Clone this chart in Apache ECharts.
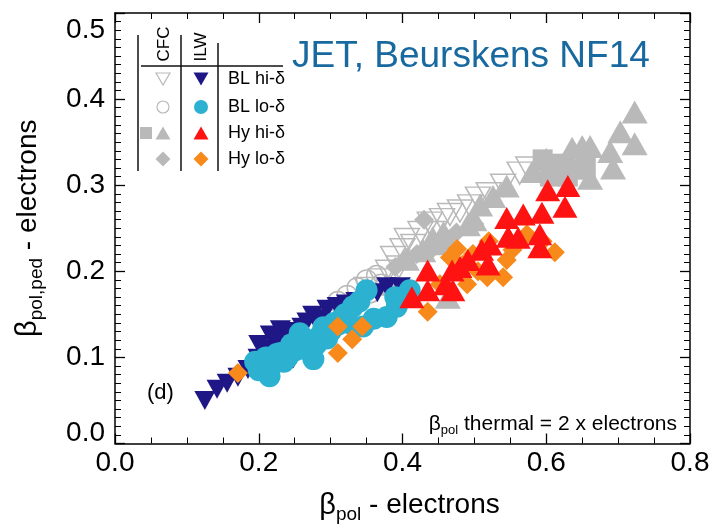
<!DOCTYPE html>
<html><head><meta charset="utf-8">
<script src="https://cdn.jsdelivr.net/npm/echarts@6/dist/echarts.min.js"></script>
<style>html,body{margin:0;padding:0;background:#fff}#c{width:716px;height:529px}</style>
</head><body><div id="c"></div>
<script>
// ---- data (x = beta_pol electrons, y = beta_pol,ped electrons) ----
var xTickLabels = ['0.0','0.2','0.4','0.6','0.8'];
var yTickLabels = ['0.0','0.1','0.2','0.3','0.4','0.5'];
var legendRows = ['BL hi-δ','BL lo-δ','Hy hi-δ','Hy lo-δ'];

var cfcBLhi = [[0.35,0.18],[0.37,0.19],[0.38,0.2],[0.387,0.216],[0.395,0.205],[0.4,0.225],[0.406,0.237],[0.415,0.23],[0.425,0.245],[0.438,0.256],[0.445,0.245],[0.455,0.26],[0.466,0.266],[0.48,0.27],[0.494,0.276],[0.505,0.285],[0.52,0.29],[0.54,0.3],[0.563,0.314],[0.575,0.32]];
var cfcBLlo = [[0.31,0.165],[0.323,0.172],[0.337,0.181],[0.35,0.19],[0.364,0.195],[0.37,0.185],[0.355,0.175]];
var cfcHyHi = [[0.378,0.185],[0.406,0.214],[0.429,0.224],[0.442,0.239],[0.46,0.232],[0.457,0.245],[0.491,0.254],[0.5,0.26],[0.508,0.277],[0.526,0.287],[0.545,0.299],[0.582,0.316],[0.6,0.33],[0.619,0.323],[0.636,0.343],[0.65,0.345],[0.661,0.345],[0.661,0.308],[0.689,0.339],[0.693,0.32],[0.703,0.362],[0.723,0.348],[0.723,0.385],[0.463,0.17]];
var cfcHyHiSq = [[0.595,0.33],[0.61,0.325],[0.625,0.322],[0.64,0.318],[0.655,0.32],[0.605,0.31],[0.63,0.31]];
var cfcHyLo = [[0.39,0.205],[0.405,0.215],[0.42,0.22],[0.44,0.225],[0.46,0.24],[0.475,0.245],[0.43,0.26],[0.5,0.255]];
var ilwBLhi = [[0.125,0.05],[0.142,0.063],[0.156,0.07],[0.171,0.077],[0.185,0.086],[0.199,0.099],[0.21,0.11],[0.216,0.126],[0.23,0.132],[0.243,0.11],[0.248,0.098],[0.255,0.125],[0.267,0.141],[0.275,0.149],[0.285,0.145],[0.295,0.156],[0.309,0.159],[0.322,0.162],[0.335,0.165],[0.35,0.17],[0.365,0.175],[0.378,0.182],[0.397,0.182],[0.41,0.17],[0.2,0.115],[0.225,0.12],[0.24,0.13],[0.26,0.135]];
var ilwBLlo = [[0.195,0.095],[0.2,0.085],[0.215,0.078],[0.21,0.1],[0.22,0.092],[0.225,0.104],[0.23,0.105],[0.235,0.095],[0.24,0.1],[0.245,0.115],[0.25,0.108],[0.257,0.128],[0.262,0.11],[0.265,0.12],[0.27,0.12],[0.276,0.098],[0.28,0.115],[0.285,0.125],[0.29,0.135],[0.295,0.122],[0.3,0.13],[0.305,0.14],[0.31,0.138],[0.315,0.145],[0.32,0.15],[0.325,0.14],[0.331,0.159],[0.34,0.165],[0.35,0.178],[0.345,0.136],[0.36,0.145],[0.378,0.147],[0.392,0.159],[0.41,0.178],[0.39,0.17]];
var ilwHyLo = [[0.171,0.082],[0.31,0.105],[0.31,0.136],[0.33,0.121],[0.344,0.136],[0.435,0.153],[0.452,0.185],[0.49,0.185],[0.466,0.216],[0.484,0.208],[0.498,0.22],[0.505,0.2],[0.518,0.193],[0.54,0.193],[0.545,0.213],[0.553,0.225],[0.573,0.243],[0.595,0.235],[0.612,0.222],[0.52,0.235],[0.476,0.226]];
var ilwHyHi = [[0.413,0.17],[0.435,0.178],[0.435,0.201],[0.46,0.185],[0.47,0.178],[0.469,0.201],[0.48,0.205],[0.491,0.213],[0.51,0.225],[0.519,0.208],[0.522,0.231],[0.545,0.262],[0.547,0.24],[0.561,0.239],[0.568,0.266],[0.591,0.243],[0.591,0.228],[0.594,0.268],[0.602,0.294],[0.63,0.299],[0.626,0.275]];

// ---- styling ----
var FONT = '"Liberation Sans", Arial, Helvetica, sans-serif';
var GRAY = '#b9b9b9', NAVY = '#1f1786', CYAN = '#2cb1d1', RED = '#ff1212', ORANGE = '#f78a1a';

function axisBase(pos, showLabel, isX) {
  return {
    type: 'value', position: pos, min: 0, max: isX ? 0.8 : 0.5, interval: isX ? 0.2 : 0.1,
    axisLine: {show: true, onZero: false, lineStyle: {color: '#000', width: 1.5}},
    axisTick: {show: true, inside: true, length: 10, lineStyle: {color: '#000', width: 1.3}},
    minorTick: {show: true, splitNumber: isX ? 4 : 10, length: 6, lineStyle: {color: '#000', width: 1}},
    splitLine: {show: false},
    axisLabel: {show: showLabel, fontSize: 28, color: '#000', fontFamily: FONT,
      margin: isX ? 6 : 10,
      formatter: function (v) {
        var i = Math.round(v / (isX ? 0.2 : 0.1));
        var t = isX ? xTickLabels[i] : yTickLabels[i];
        if (!isX && i === 5) return '{top|' + t + '}';
        if (!isX && i === 0) return '{bot|' + t + '}';
        return t;
      },
      rich: {top: {fontSize: 28, fontFamily: FONT, padding: [34, 0, 0, 0]},
             bot: {fontSize: 28, fontFamily: FONT, padding: [0, 0, 20, 0]}}
    }
  };
}
var titleRich = {
  b: {fontSize: 29, fontFamily: FONT, lineHeight: 30, color: '#000'},
  s: {fontSize: 19, fontFamily: FONT, lineHeight: 19, padding: [18, 0, 0, 0], color: '#000'},
  n: {fontSize: 28, fontFamily: FONT, lineHeight: 30, color: '#000'}};
var xBottom = axisBase('bottom', true, true);
xBottom.name = '{b|β}{s|pol}{n| - electrons}';
xBottom.nameLocation = 'middle';
xBottom.nameGap = 47;
xBottom.nameTextStyle = {fontFamily: FONT, padding: [0, 0, 0, 14], rich: titleRich};
var xTop = axisBase('top', false, true);
var yLeft = axisBase('left', true, false);
yLeft.name = '{b|β}{s|pol,ped}{n| - electrons}';
yLeft.nameLocation = 'middle';
yLeft.nameGap = 72;
yLeft.nameRotate = 90;
yLeft.nameTextStyle = {fontFamily: FONT, rich: titleRich};
var yRight = axisBase('right', false, false);

function sc(name, data, symbol, size, style, rot) {
  style.opacity = 1;
  return {name: name, type: 'scatter', data: data, symbol: symbol, symbolSize: size,
    symbolRotate: rot || 0, itemStyle: style, xAxisIndex: 0, yAxisIndex: 0, silent: true};
}
function hollow() { return {color: 'rgba(0,0,0,0)', borderColor: GRAY, borderWidth: 1.5}; }

var series = [
  sc('CFC BL hi-δ', cfcBLhi, 'triangle', [25, 22], hollow(), 180),
  sc('CFC BL lo-δ', cfcBLlo, 'circle', 20, hollow()),
  sc('CFC Hy hi-δ', cfcHyHi, 'triangle', [26, 23], {color: GRAY}),
  sc('CFC Hy hi-δ (sq)', cfcHyHiSq, 'rect', 20, {color: GRAY}),
  sc('CFC Hy lo-δ', cfcHyLo, 'diamond', 20, {color: GRAY}),
  sc('ILW BL hi-δ', ilwBLhi, 'triangle', [21, 19], {color: NAVY}, 180),
  sc('ILW BL lo-δ', ilwBLlo, 'circle', 22, {color: CYAN}),
  sc('ILW Hy lo-δ', ilwHyLo, 'diamond', 20, {color: ORANGE}),
  sc('ILW Hy hi-δ', ilwHyHi, 'triangle', [25, 22], {color: RED})
];

// ---- legend table (drawn as graphic) ----
function tri(cx, cy, w, h, down, style) {
  var pts = down ? [[cx - w/2, cy - h/2], [cx + w/2, cy - h/2], [cx, cy + h/2]]
                 : [[cx - w/2, cy + h/2], [cx + w/2, cy + h/2], [cx, cy - h/2]];
  return {type: 'polygon', shape: {points: pts}, style: style, z: 100};
}
function dia(cx, cy, s, style) {
  return {type: 'polygon', shape: {points: [[cx, cy - s/2], [cx + s/2, cy], [cx, cy + s/2], [cx - s/2, cy]]}, style: style, z: 100};
}
var rowsY = [79, 107, 133, 159];
var cX = 163, iX = 201;
var lineStyle = {stroke: '#111', lineWidth: 1.5};
var graphic = [
  {type: 'line', shape: {x1: 138, y1: 35, x2: 138, y2: 171}, style: lineStyle, z: 100},
  {type: 'line', shape: {x1: 181, y1: 35, x2: 181, y2: 171}, style: lineStyle, z: 100},
  {type: 'line', shape: {x1: 218, y1: 43, x2: 218, y2: 171}, style: lineStyle, z: 100},
  {type: 'line', shape: {x1: 141, y1: 66, x2: 283, y2: 66}, style: lineStyle, z: 100},
  {type: 'text', x: 164, y: 44, rotation: Math.PI / 2, z: 100,
    style: {text: 'CFC', fontSize: 17, fontFamily: FONT, fill: '#000', align: 'center', verticalAlign: 'middle'}},
  {type: 'text', x: 201, y: 47, rotation: Math.PI / 2, z: 100,
    style: {text: 'ILW', fontSize: 17, fontFamily: FONT, fill: '#000', align: 'center', verticalAlign: 'middle'}},
  tri(cX, rowsY[0], 14, 12, true, {fill: 'none', stroke: GRAY, lineWidth: 1.2}),
  {type: 'circle', shape: {cx: cX, cy: rowsY[1], r: 6}, style: {fill: 'none', stroke: GRAY, lineWidth: 1.2}, z: 100},
  tri(cX, rowsY[2], 15, 13, false, {fill: GRAY}),
  {type: 'rect', shape: {x: 140, y: rowsY[2] - 6, width: 12, height: 12}, style: {fill: GRAY}, z: 100},
  dia(cX, rowsY[3], 15, {fill: GRAY}),
  tri(iX, rowsY[0], 15, 13, true, {fill: NAVY}),
  {type: 'circle', shape: {cx: iX, cy: rowsY[1], r: 7}, style: {fill: CYAN}, z: 100},
  tri(iX, rowsY[2], 15, 13, false, {fill: RED}),
  dia(iX, rowsY[3], 15, {fill: ORANGE})
];
legendRows.forEach(function (t, i) {
  graphic.push({type: 'text', x: 228, y: rowsY[i], z: 100,
    style: {text: t, fontSize: 18, fontFamily: FONT, fill: '#000', align: 'left', verticalAlign: 'middle'}});
});
graphic.push({type: 'text', x: 292, y: 57, z: 100,
  style: {text: 'JET, Beurskens NF14', fontSize: 37, fontFamily: FONT, fill: '#18699f', align: 'left', verticalAlign: 'middle'}});
graphic.push({type: 'text', x: 147, y: 393, z: 100,
  style: {text: '(d)', fontSize: 22, fontFamily: FONT, fill: '#000', align: 'left', verticalAlign: 'middle'}});
graphic.push({type: 'text', x: 677, y: 424, z: 100,
  style: {text: '{b|β}{s|pol}{n| thermal = 2 x electrons}', align: 'right', verticalAlign: 'middle',
    rich: {b: {fontSize: 21, fontFamily: FONT, lineHeight: 24, fill: '#000'},
           s: {fontSize: 13, fontFamily: FONT, lineHeight: 13, padding: [13, 0, 0, 0], fill: '#000'},
           n: {fontSize: 21, fontFamily: FONT, lineHeight: 24, fill: '#000'}}}});

var chart = echarts.init(document.getElementById('c'), null, {renderer: 'canvas'});
chart.setOption({
  animation: false,
  backgroundColor: '#fff',
  grid: {left: 115, right: 26, top: 13, bottom: 81, containLabel: false},
  xAxis: [xBottom, xTop],
  yAxis: [yLeft, yRight],
  series: series,
  graphic: graphic
});
</script></body></html>
